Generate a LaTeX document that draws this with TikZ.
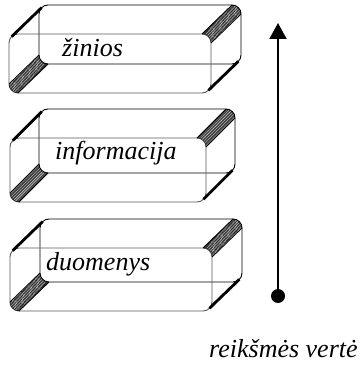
\documentclass[tikz,border=0pt]{standalone}
\usepackage{fontspec}
\setmainfont{Liberation Serif}
\usetikzlibrary{arrows.meta,calc}

\tikzset{
  backline/.style={draw=black, line width=0.9pt},
  frontline/.style={draw=black!65, line width=0.9pt},
  rimline/.style={draw=black, line width=0.9pt},
  hatchline/.style={draw=black, line width=0.5pt},
  ridge/.style={draw=black, line width=2.8pt, line cap=butt},
  label/.style={font=\fontsize{26}{31}\selectfont\itshape, inner sep=0pt, anchor=base west},
}

% Rounded slab seen obliquely:
% #1 left, #2 top, #3 right, #4 bottom of the near face, #5 depth shift right, #6 depth shift up
\newcommand\drawslab[6]{%
  \def\slL{#1}\def\slT{#2}\def\slR{#3}\def\slB{#4}\def\slX{#5}\def\slY{#6}\def\slr{9}%
  % far face and near face
  \draw[backline, rounded corners=9pt] (\slL+\slX,\slT-\slY) rectangle (\slR+\slX,\slB-\slY);
  \draw[frontline, rounded corners=9pt] (\slL,\slT) rectangle (\slR,\slB);
  % shaded rounded edge, top right
  \foreach \a in {-86,-79,...,-3}
    \draw[hatchline] ($(\slR-\slr,\slT+\slr)+(\a:\slr)$) -- ++(\slX,-\slY);
  \draw[rimline] (\slR-\slr,\slT) -- ++(\slX,-\slY);
  \draw[rimline] (\slR,\slT+\slr) -- ++(\slX,-\slY);
  % shaded rounded edge, bottom left
  \foreach \a in {94,101,...,177}
    \draw[hatchline] ($(\slL+\slr,\slB-\slr)+(\a:\slr)$) -- ++(\slX,-\slY);
  \draw[rimline] (\slL,\slB-\slr) -- ++(\slX,-\slY);
  \draw[rimline] (\slL+\slr,\slB) -- ++(\slX,-\slY);
  % edge-on rounded edges
  \draw[ridge] ($(\slL+\slr,\slT+\slr)+(225:\slr)$) -- ++(\slX,-\slY);
  \draw[ridge] ($(\slR-\slr,\slB-\slr)+(45:\slr)$) -- ++(\slX,-\slY);
}

\begin{document}
\begin{tikzpicture}[x=1pt, y=-1pt]
  \useasboundingbox (0,0) rectangle (363,366);

  \drawslab{9}{34}{211}{93}{30}{29}
  \drawslab{10}{138}{206}{202}{29}{29}
  \drawslab{10}{248}{212}{311}{30}{29}

  \node[label] (zinios) at (62,57) {žinios};
  \node[label] (informacija) at (55,160) {informacija};
  \node[label] (duomenys) at (46,270) {duomenys};
  \node[label] (verte) at (209,357) {reikšmės vertė};

  % value axis
  \node[circle, fill=black, inner sep=0pt, minimum size=14pt] (base) at (278,296) {};
  \coordinate (tip) at (278,23);
  \draw[line width=2pt, -{Triangle[width=17pt, length=16pt]}] (base.center) -- (tip);
\end{tikzpicture}
\end{document}
